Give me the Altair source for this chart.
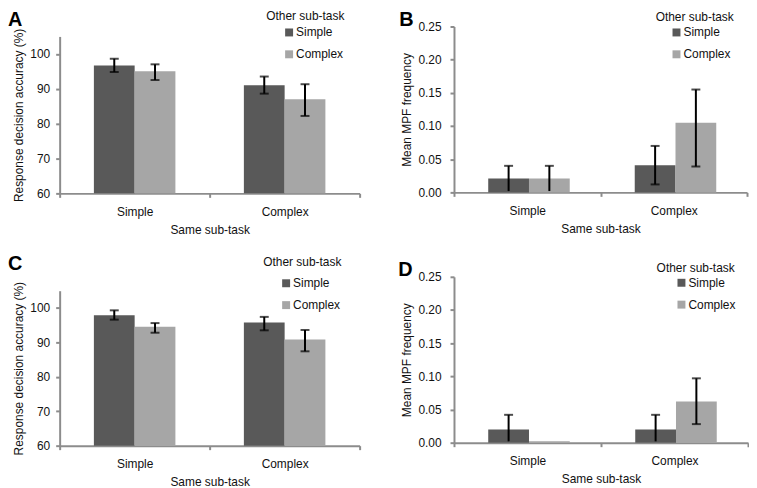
import altair as alt
import pandas as pd

FONT = "Liberation Sans"
DARK = "#595959"
LIGHT = "#a6a6a6"
AXIS_GRAY = "#8c8c8c"

category_order = ["Simple", "Complex"]
same_task = ["Simple", "Simple", "Complex", "Complex"]
other_task = ["Simple", "Complex", "Simple", "Complex"]
legend_title = "Other sub-task"
x_title = "Same sub-task"
acc_title = "Response decision accuracy (%)"
mpf_title = "Mean MPF frequency"
acc_ticks = [60, 70, 80, 90, 100]
mpf_ticks = [0.0, 0.05, 0.10, 0.15, 0.20, 0.25]

# Panel A
a_mean = [96.7, 95.0, 91.0, 87.0]
a_lo = [94.8, 92.5, 88.6, 82.2]
a_hi = [98.6, 97.0, 93.5, 91.3]
# Panel B
b_mean = [0.021, 0.021, 0.041, 0.105]
b_lo = [0.002, 0.002, 0.012, 0.039]
b_hi = [0.040, 0.040, 0.070, 0.155]
# Panel C
c_mean = [97.9, 94.5, 95.8, 90.8]
c_lo = [96.6, 92.8, 93.5, 87.4]
c_hi = [99.3, 95.6, 97.4, 93.6]
# Panel D
d_mean = [0.020, 0.002, 0.020, 0.062]
d_lo = [0.002, 0.002, 0.002, 0.028]
d_hi = [0.042, 0.002, 0.042, 0.097]


def panel(letter, mean, lo, hi, ytitle, ydomain, yticks, yfmt, width, height,
          yrange, base, legend_x, legend_y, title_x, title_y, letter_x, letter_y, label_pad):
    df = pd.DataFrame({"same": same_task, "other": other_task,
                       "mean": mean, "lo": lo, "hi": hi})
    xaxis = alt.Axis(title=x_title, labelAngle=0, tickBand="extent", tickSize=4,
                     labelPadding=9, titlePadding=7)
    xscale = alt.Scale(paddingInner=0, paddingOuter=0)
    oscale = alt.Scale(paddingInner=0, paddingOuter=0.84)
    if yrange is not None:
        yscale = alt.Scale(domain=ydomain, zero=False, nice=False, range=yrange)
    else:
        yscale = alt.Scale(domain=ydomain, zero=False, nice=False)
    yaxis = alt.Axis(title=ytitle, values=yticks, format=yfmt, tickSize=4,
                     labelPadding=label_pad, titlePadding=4, grid=False)

    def enc(field):
        return dict(
            x=alt.X("same:N", sort=category_order, scale=xscale, axis=xaxis, title=x_title),
            xOffset=alt.XOffset("other:N", sort=category_order, scale=oscale),
            y=alt.Y(field + ":Q", scale=yscale, axis=yaxis, title=ytitle),
        )

    bars = alt.Chart(df).mark_bar().encode(
        **enc("mean"),
        y2=alt.datum(base),
        color=alt.Color("other:N", sort=category_order,
                        scale=alt.Scale(domain=category_order, range=[DARK, LIGHT]),
                        legend=alt.Legend(title=None, orient="none", legendX=legend_x,
                                          legendY=legend_y, symbolType="square",
                                          symbolSize=64, symbolStrokeWidth=0,
                                          labelFontSize=12, labelFont=FONT,
                                          labelColor="#111111", labelOffset=1,
                                          rowPadding=10, padding=0)),
    )
    rules = alt.Chart(df).mark_rule(color="black", strokeWidth=2).encode(
        **enc("lo"), y2=alt.Y2("hi:Q"))
    caps_hi = alt.Chart(df).transform_filter("datum.hi > datum.mean").mark_tick(
        color="black", thickness=2, size=9).encode(**enc("hi"))
    caps_lo = alt.Chart(df).transform_filter(
        "datum.lo > 0.005 && datum.lo < datum.mean").mark_tick(
        color="black", thickness=2, size=9).encode(**enc("lo"))
    ttl = alt.Chart(pd.DataFrame({"t": [legend_title]})).mark_text(
        align="left", baseline="top", fontSize=12, font=FONT, color="#111111"
    ).encode(x=alt.value(title_x), y=alt.value(title_y), text="t:N")
    let = alt.Chart(pd.DataFrame({"t": [letter]})).mark_text(
        align="left", baseline="top", fontSize=20, font=FONT,
        fontWeight="bold", color="black"
    ).encode(x=alt.value(letter_x), y=alt.value(letter_y), text="t:N")
    return alt.layer(bars, rules, caps_hi, caps_lo, ttl, let).properties(
        width=width, height=height)


A = panel("A", a_mean, a_lo, a_hi, acc_title, [60, 105], acc_ticks, "d", 302, 168,
          [168, 10], 60, 225, 0, 208, -15.4, -52, -16, 6)
B = panel("B", b_mean, b_lo, b_hi, mpf_title, [0, 0.25], mpf_ticks, ".2f", 295, 167,
          None, 0, 218, 0, 203, -15, -55, -16, 9)
C = panel("C", c_mean, c_lo, c_hi, acc_title, [60, 105], acc_ticks, "d", 302, 170,
          [170, 14], 60, 222, 0.5, 205, -20, -52, -22.5, 6)
D = panel("D", d_mean, d_lo, d_hi, mpf_title, [0, 0.25], mpf_ticks, ".2f", 296, 167,
          None, 0, 223, 0, 204, -14, -56, -16.5, 9)

chart = alt.concat(A, B, C, D, columns=2, spacing={"row": 84, "column": 95},
                   bounds="flush", align="none").resolve_scale(
    color="independent").properties(padding=0).configure(
    font=FONT).configure_view(stroke=None).configure_axis(
    domainColor=AXIS_GRAY, domainWidth=2, tickColor=AXIS_GRAY, tickWidth=2,
    labelFont=FONT, labelFontSize=12, labelColor="#111111",
    titleFont=FONT, titleFontSize=12, titleFontWeight="normal", titleColor="#111111")

chart.save("out.html", embed_options={"renderer": "svg", "actions": False})
